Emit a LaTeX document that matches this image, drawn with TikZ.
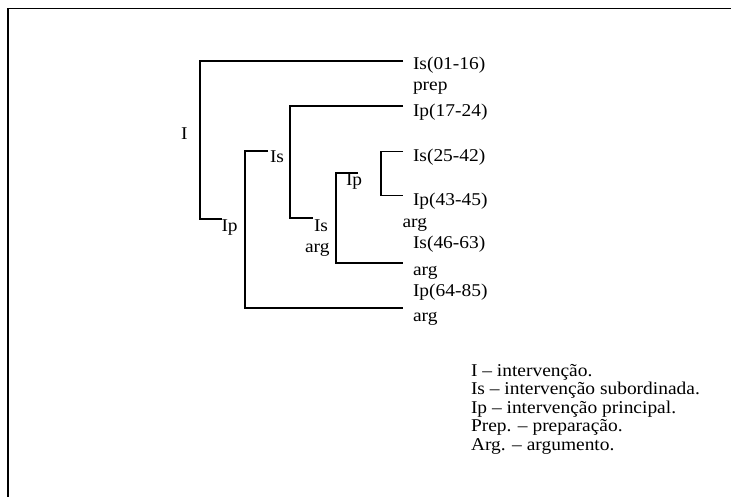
\documentclass[tikz,border=0pt]{standalone}
\usepackage{fontspec}
\setmainfont{Liberation Serif}[FakeStretch=1.08]
\newcommand\lbfont{\fontsize{18}{18}\selectfont}
\tikzset{
  br/.style={line width=1.7pt, line cap=butt, line join=miter},
  lbl/.style={anchor=base west, inner sep=0pt, outer sep=0pt, font=\lbfont},
}
\begin{document}
\begin{tikzpicture}[x=1pt, y=-1pt]
\useasboundingbox (0,0) rectangle (731,496);
% page frame
\draw[line width=1.8pt] (8,497) -- (8,8.5) -- (732,8.5);

% right-hand labels
\node[lbl] (t1)  at (413,69.5)  {Is(01-16)};
\node[lbl] (t2)  at (413,90)    {prep};
\node[lbl] (t3)  at (413,116)   {Ip(17-24)};
\node[lbl] (t4)  at (413,161)   {Is(25-42)};
\node[lbl] (t5)  at (413,205)   {Ip(43-45)};
\node[lbl] (t6)  at (402.5,227) {arg};
\node[lbl] (t7)  at (413,248.5) {Is(46-63)};
\node[lbl] (t8)  at (413,275)   {arg};
\node[lbl] (t9)  at (413,296)   {Ip(64-85)};
\node[lbl] (t10) at (413,321)   {arg};

% left / inner labels
\node[lbl] (lI)   at (181,139.5) {I};
\node[lbl] (lIp1) at (221.5,231) {Ip};
\node[lbl] (lIs1) at (270,162)   {Is};
\node[lbl] (lIs2) at (314,231)   {Is};
\node[lbl] (larg) at (305,252)   {arg};
\node[lbl] (lIp2) at (346,185)   {Ip};

% legend
\node[lbl] (g1) at (471,376)   {I – intervenção.};
\node[lbl] (g2) at (471,394.6) {Is – intervenção subordinada.};
\node[lbl] (g3) at (471,413.2) {Ip – intervenção principal.};
\node[lbl] (g4) at (471,431.8) {Prep. – preparação.};
\node[lbl] (g5) at (471,450.4) {Arg. – argumento.};

% bracket end points
\coordinate (a1) at (403,60.7);
\coordinate (a2) at (200,60.7);
\coordinate (a3) at (200,219);
\coordinate (a4) at (222,219);

\coordinate (b1) at (268,151);
\coordinate (b2) at (245,151);
\coordinate (b3) at (245,308.3);
\coordinate (b4) at (403,308.3);

\coordinate (c1) at (403,105.7);
\coordinate (c2) at (290,105.7);
\coordinate (c3) at (290,218.3);
\coordinate (c4) at (312.5,218.3);

\coordinate (d1) at (358,173);
\coordinate (d2) at (336,173);
\coordinate (d3) at (336,263.3);
\coordinate (d4) at (403,263.3);

\coordinate (e1) at (403,151.5);
\coordinate (e2) at (381,151.5);
\coordinate (e3) at (381,195.5);
\coordinate (e4) at (403,195.5);

\draw[br] (a1) -- (a2) -- (a3) -- (a4);
\draw[br] (b1) -- (b2) -- (b3) -- (b4);
\draw[br] (c1) -- (c2) -- (c3) -- (c4);
\draw[br] (d1) -- (d2) -- (d3) -- (d4);
\draw[br] (e1) -- (e2) -- (e3) -- (e4);
\end{tikzpicture}
\end{document}
